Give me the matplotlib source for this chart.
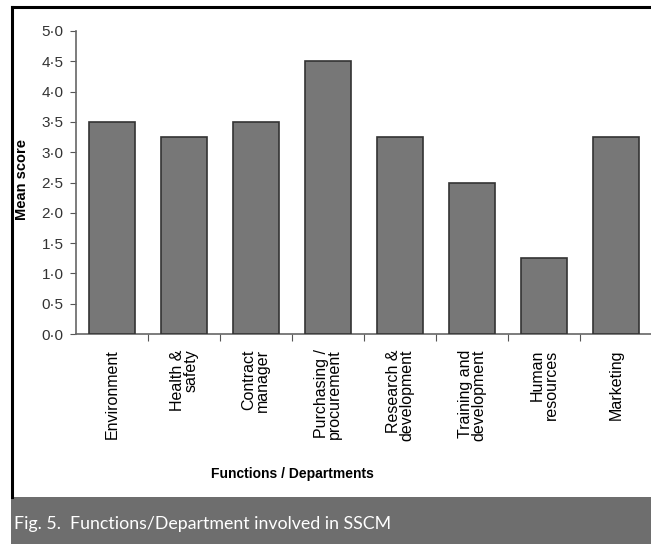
import matplotlib.pyplot as plt
from matplotlib.patches import Rectangle
from matplotlib.lines import Line2D
from matplotlib.ticker import FuncFormatter, FixedLocator

# data
categories = ["Environment", "Health &\nsafety", "Contract\nmanager",
              "Purchasing /\nprocurement", "Research &\ndevelopment",
              "Training and\ndevelopment", "Human\nresources", "Marketing"]
scores = [3.5, 3.25, 3.5, 4.5, 3.25, 2.5, 1.25, 3.25]
y_ticks = [0, 0.5, 1.0, 1.5, 2.0, 2.5, 3.0, 3.5, 4.0, 4.5, 5.0]

plt.rcParams['font.family'] = ['Liberation Sans', 'DejaVu Sans']

W, H = 651, 544
fig = plt.figure(figsize=(W / 100, H / 100), dpi=100)

# outer frame (left and top black rules) and caption band
fig.add_artist(Line2D([12 / W, 12 / W], [1 - 7 / H, 1 - 497 / H], color='black', lw=2.2))
fig.add_artist(Line2D([12 / W, 1], [1 - 7 / H, 1 - 7 / H], color='black', lw=2.2))
fig.add_artist(Rectangle((11 / W, 0), 1, 47 / H, transform=fig.transFigure,
                         facecolor='#6e6e6e', edgecolor='none'))
fig.text(14 / W, 20 / H, "Fig. 5.  Functions/Department involved in SSCM",
         color='white', fontsize=12.8, family=['Lato', 'DejaVu Sans'], va='center')

ax = fig.add_axes([76 / W, 1 - 334 / H, 576 / W, 303 / H])
x = list(range(len(categories)))
ax.bar(x, scores, width=0.65, color='#777777', edgecolor='#333333', linewidth=1.2, zorder=3)

ax.set_xlim(-0.5, len(categories) - 0.5)
ax.set_ylim(0, 5.0)
ax.set_yticks(y_ticks)
ax.yaxis.set_major_formatter(FuncFormatter(lambda v, p: f"{v:.1f}".replace('.', '·')))

# category boundary ticks, labels in the middle
ax.xaxis.set_major_locator(FixedLocator([i + 0.5 for i in x[:-1]]))
ax.xaxis.set_major_formatter(FuncFormatter(lambda v, p: ''))
ax.xaxis.set_minor_locator(FixedLocator(x))
ax.set_xticklabels(categories, minor=True, rotation=90, fontsize=11.5,
                   va='top', ha='center', linespacing=0.9, multialignment='right')
ax.tick_params(axis='x', which='minor', length=0, pad=11)
ax.tick_params(axis='x', which='major', length=5, direction='out', color='#555555')
ax.tick_params(axis='y', length=4, direction='out', color='#555555', labelsize=11,
               labelcolor='#333333', pad=5)

for s in ['top', 'right']:
    ax.spines[s].set_visible(False)
for s in ['left', 'bottom']:
    ax.spines[s].set_color('#666666')
    ax.spines[s].set_linewidth(1.2)

fig.text(22 / W, 1 - 180 / H, "Mean score", rotation=90, fontsize=10.5,
         fontweight='bold', ha='center', va='center')
fig.text(292 / W, 1 - 474 / H, "Functions / Departments", fontsize=10,
         fontweight='bold', ha='center', va='center')

fig.savefig("out.png", dpi=100)
